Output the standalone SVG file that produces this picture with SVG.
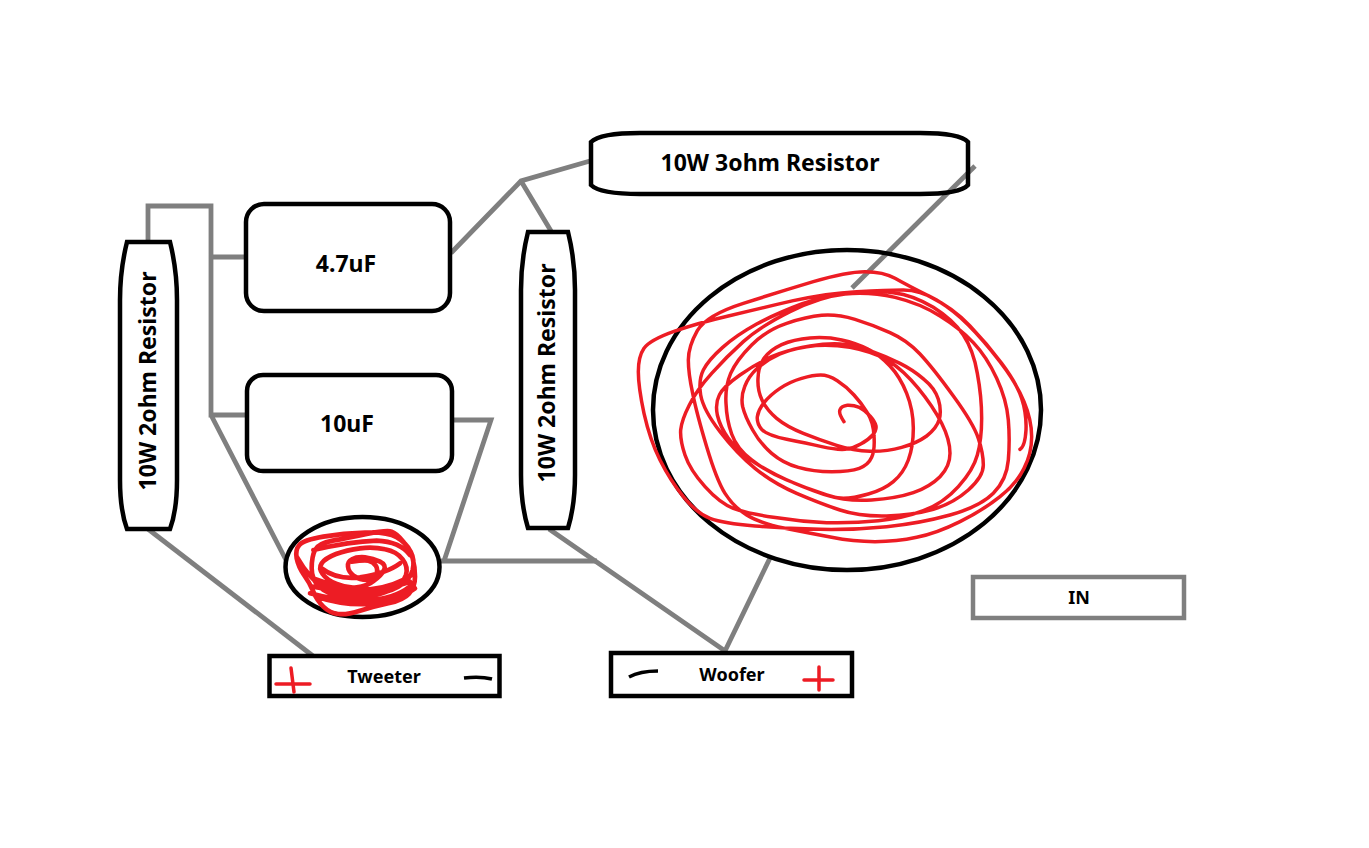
<svg xmlns="http://www.w3.org/2000/svg" width="1369" height="848" viewBox="0 0 1369 848">
<style>
.shape{fill:none;stroke:#000;stroke-width:4.500}
.wire{fill:none;stroke:#7f7f7f;stroke-width:4.800;stroke-linejoin:miter}
.scribble{fill:none;stroke:#ed1c24;stroke-linecap:round;stroke-linejoin:round}
.big{font:bold 23px "Noto Sans","Open Sans","Liberation Sans",sans-serif;fill:#000;text-anchor:middle}
.small{font:bold 18px "Noto Sans","Open Sans","Liberation Sans",sans-serif;fill:#000;text-anchor:middle}
</style>
<rect width="1369" height="848" fill="#fff"/>
<g id="connectors">
<path class="wire" d="M148 241V206H211V415H246M211 257H246M211 415L286 560"/>
<path class="wire" d="M451 253L521 181L590 161M521 181L551 231"/>
<path class="wire" d="M975 166L852 288"/>
<path class="wire" d="M454 420H491L444 561M441 561H597"/>
<path class="wire" d="M549 529L725 651L770 558"/>
<path class="wire" d="M148 529L313 656"/>
</g>
<g id="r-left">
<path class="shape" d="M127 242H170Q177 270 177 300V480Q177 510 170 529H127Q120 510 120 480V300Q120 270 127 242Z"/>
<text class="big" transform="translate(156 381) rotate(-90)">10W 2ohm Resistor</text>
</g>
<g id="r-mid">
<path class="shape" d="M528 232H568Q575 260 575 290V475Q575 505 568 528H528Q521 505 521 475V290Q521 260 528 232Z"/>
<text class="big" transform="translate(555 373) rotate(-90)">10W 2ohm Resistor</text>
</g>
<g id="r-top">
<path class="shape" d="M591 142Q600 133 640 133H920Q960 133 968 142V185Q960 194 920 194H640Q600 194 591 185Z"/>
<text class="big" x="770" y="171">10W 3ohm Resistor</text>
</g>
<g id="c47">
<rect class="shape" x="246" y="204" width="204" height="107" rx="18"/>
<text class="big" x="346" y="272">4.7uF</text>
</g>
<g id="c10">
<rect class="shape" x="247" y="375" width="205" height="96" rx="16"/>
<text class="big" x="347" y="432">10uF</text>
</g>
<g id="woofer-coil">
<ellipse class="shape" cx="847" cy="410" rx="194" ry="160"/>
<path class="scribble" stroke-width="10.500" transform="translate(620 240) scale(.33333)" d="M672 545Q655 520 660 509Q665 498 682 496Q700 495 718 502Q735 510 750 528Q765 545 768 558Q770 570 758 585Q745 600 722 612Q700 625 675 628Q650 630 605 620Q560 610 500 598Q440 585 425 568Q410 550 412 530Q415 510 432 488Q450 465 480 445Q510 425 545 415Q580 405 602 405Q625 405 652 422Q680 440 702 465Q725 490 742 518Q760 545 762 588Q765 630 755 652Q745 675 718 685Q690 695 635 695Q580 695 535 682Q490 670 455 640Q420 610 398 570Q375 530 368 500Q362 470 374 440Q385 410 412 385Q440 360 480 342Q520 325 570 318Q620 310 660 312Q700 315 750 332Q800 350 840 370Q880 390 912 418Q945 445 955 478Q965 510 958 538Q950 565 920 588Q890 610 845 622Q800 635 750 634Q700 632 650 616Q600 600 550 580Q500 560 470 535Q440 510 426 480Q412 450 414 415Q415 380 432 355Q450 330 485 314Q520 298 570 294Q620 290 665 300Q710 310 745 328Q780 345 810 378Q840 410 860 460Q880 510 880 565Q880 620 865 660Q850 700 820 725Q790 750 745 762Q700 775 670 775Q640 775 580 752Q520 730 470 705Q420 680 385 655Q350 630 325 595Q300 560 292 525Q285 490 298 465Q310 440 360 405Q410 370 455 350Q500 330 560 320Q620 310 690 322Q760 335 805 362Q850 390 895 445Q940 500 965 550Q990 600 990 640Q990 680 960 710Q930 740 880 758Q830 775 755 780Q680 785 620 765Q560 745 500 720Q440 695 395 660Q350 625 335 582Q320 540 318 490Q315 440 332 400Q350 360 395 315Q440 270 500 250Q560 230 605 226Q650 222 705 238Q760 255 810 278Q860 300 900 342Q940 385 1000 468Q1060 550 1075 595Q1090 640 1090 675Q1090 710 1045 750Q1000 790 940 808Q880 825 800 828Q720 830 660 810Q600 790 530 760Q460 730 405 685Q350 640 300 575Q250 510 242 465Q235 420 250 390Q265 360 308 322Q350 285 410 252Q470 220 545 192Q620 165 690 158Q760 150 820 158Q880 165 940 202Q1000 240 1030 285Q1060 330 1072 400Q1085 470 1085 535Q1085 600 1072 645Q1060 690 1015 740Q970 790 910 812Q850 835 775 842Q700 850 620 848Q540 845 460 832Q380 820 340 805Q300 790 255 740Q210 690 195 645Q180 600 182 570Q185 540 208 495Q230 450 275 400Q320 350 370 305Q420 260 510 215Q600 170 675 162Q750 155 825 172Q900 190 960 228Q1020 265 1060 308Q1100 350 1130 415Q1160 480 1165 540Q1170 600 1165 660Q1160 720 1120 760Q1080 800 990 825Q900 850 800 860Q700 870 600 868Q500 865 405 858Q310 850 270 835Q230 820 190 770Q150 720 120 660Q90 600 72 520Q55 440 55 395Q55 350 72 325Q90 300 160 275Q230 250 325 228Q420 205 520 182Q620 160 710 155Q800 150 850 150Q900 150 950 180Q1000 210 1045 255Q1090 300 1140 365Q1190 430 1212 485Q1235 540 1235 590Q1235 640 1212 685Q1190 730 1140 770Q1090 810 1020 845Q950 880 890 892Q830 905 765 905Q700 905 635 892Q570 880 495 865Q420 850 380 825Q340 800 315 760Q290 720 260 620Q230 520 218 460Q205 400 205 360Q205 320 232 272Q260 225 370 190Q480 155 580 125Q680 95 735 95Q790 95 825 115Q860 135 930 170Q1000 205 1050 258Q1100 310 1145 370Q1190 430 1205 475Q1220 520 1218 570Q1215 620 1200 628"/>
</g>
<g id="tweeter-coil">
<ellipse class="shape" cx="362.500" cy="567" rx="77" ry="50"/>
<path class="scribble" stroke-width="14" transform="translate(260 500) scale(.33333)" d="M275 185Q310 180 325 182Q340 185 348 198Q355 210 348 225Q340 240 320 240Q300 240 282 228Q265 215 264 200Q262 185 276 178Q290 170 315 172Q340 175 360 185Q380 195 372 210Q365 225 342 242Q320 260 290 262Q260 265 230 252Q200 240 188 222Q175 205 185 190Q195 175 228 162Q260 150 300 145Q340 140 375 148Q410 155 428 178Q445 200 438 225Q430 250 395 268Q360 285 320 290Q280 295 240 288Q200 280 178 260Q155 240 155 205Q155 170 165 150Q175 130 218 122Q260 115 320 102Q380 90 395 95Q410 100 430 125Q450 150 458 175Q465 200 465 230Q465 260 448 280Q430 300 385 310Q340 320 300 332Q260 345 235 342Q210 340 190 320Q170 300 160 275Q150 250 132 225Q115 200 110 175Q105 150 118 135Q130 120 190 110Q250 100 315 98Q380 95 410 112Q440 130 452 155Q465 180 458 210Q450 240 415 260Q380 280 330 282Q280 285 235 272Q190 260 170 245M110 170Q150 240 195 265Q240 290 295 280Q350 270 395 255L440 240M160 260Q260 280 315 275Q370 270 410 258L450 245M150 280Q260 310 340 300Q420 290 460 250M160 150Q270 125 350 122Q420 125 450 165M185 205Q230 240 300 232Q380 220 420 190M160 235Q250 270 330 268Q400 262 455 225M170 290Q260 320 350 310Q420 300 465 265"/>
</g>
<g id="tweeter">
<rect class="shape" x="269.500" y="656" width="230" height="40"/>
<text class="small" x="384" y="683">Tweeter</text>
<path class="scribble" stroke-width="3.500" d="M291 668L294 692M276 684H310"/>
<path d="M464 678Q480 676 492 679" fill="none" stroke="#000" stroke-width="3.500"/>
</g>
<g id="woofer">
<rect class="shape" x="611" y="653" width="241" height="43"/>
<text class="small" x="732" y="681">Woofer</text>
<path class="scribble" stroke-width="3.500" d="M819 667V690M804 680H833"/>
<path d="M629 677Q640 671 658 671" fill="none" stroke="#000" stroke-width="3.500"/>
</g>
<g id="in">
<rect x="973" y="577" width="211" height="41" fill="none" stroke="#7f7f7f" stroke-width="4.500"/>
<text class="small" x="1079" y="604">IN</text>
</g>
</svg>
